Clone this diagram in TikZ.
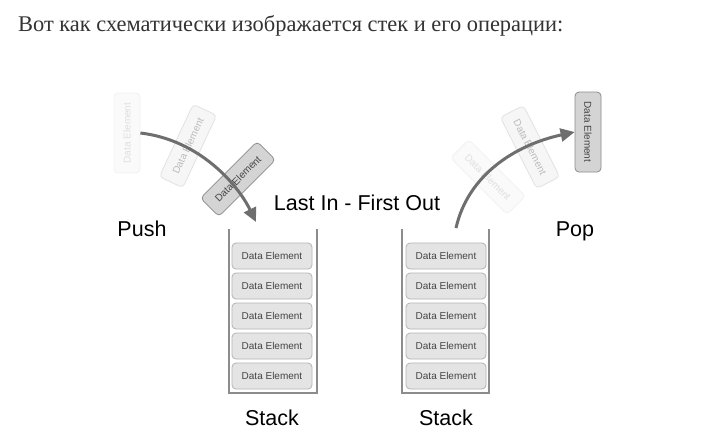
\documentclass[tikz,border=0pt]{standalone}
\usepackage{fontspec}
\setmainfont{Liberation Sans}
\newfontfamily\headfont{Liberation Serif}
\usetikzlibrary{arrows.meta}
\definecolor{elfill}{HTML}{E4E4E4}
\definecolor{eldraw}{HTML}{B4B4B4}
\definecolor{eltext}{HTML}{444444}
\definecolor{arrowc}{HTML}{6E6E6E}
\definecolor{boxc}{HTML}{8C8C8C}
\definecolor{headc}{HTML}{333333}
\definecolor{topfill}{HTML}{D4D4D4}
\definecolor{topdraw}{HTML}{8C8C8C}
\tikzset{
  elem/.style={draw=eldraw, fill=elfill, rounded corners=4pt, line width=0.8pt,
    minimum width=80pt, minimum height=26pt, inner sep=0pt, text=eltext,
    font=\fontsize{10}{12}\selectfont},
  topelem/.style={elem, fill=topfill, draw=topdraw},
  biglabel/.style={font=\fontsize{21.5}{25}\selectfont, text=black, inner sep=0pt, anchor=base},
  stackline/.style={draw=boxc, line width=1.2pt},
  moveit/.style={draw=arrowc, line width=3pt, -{Triangle[length=14pt,width=13pt]}}
}
\begin{document}
\begin{tikzpicture}[x=1pt,y=-1pt]
\useasboundingbox[fill=white] (0,0) rectangle (720,440);
\node[anchor=base west, inner sep=0pt, text=headc, font=\headfont\fontsize{22.4}{26}\selectfont] (head) at (18,31) {Вот как схематически изображается стек и его операции:};

% stacks
\draw[stackline] (229,229) -- (229,393) -- (317,393) -- (317,229);
\draw[stackline] (402,229) -- (402,393) -- (489,393) -- (489,229);
\foreach \i/\y in {1/256,2/286,3/316,4/346,5/376}{
  \node[elem] (l\i) at (272,\y) {Data Element};
  \node[elem] (r\i) at (446,\y) {Data Element};
}
\node[biglabel] (ls) at (272,425) {Stack};
\node[biglabel] (rs) at (446,425) {Stack};
\node[biglabel] (lifo) at (357,210) {Last In - First Out};
\node[biglabel] (push) at (142,236) {Push};
\node[biglabel] (pop) at (575,236) {Pop};

% push elements
\node[elem, rotate=90, opacity=0.15] (f1) at (127,133) {Data Element};
\node[elem, rotate=65, opacity=0.33] (f2) at (188,146) {Data Element};
\node[topelem, rotate=45] (f3) at (238,179) {Data Element};

% pop elements
\node[elem, rotate=-45, opacity=0.15] (p3) at (488,177) {Data Element};
\node[elem, rotate=-63, opacity=0.33] (p2) at (530,147) {Data Element};
\node[topelem, rotate=-90] (p1) at (588,132) {Data Element};

\coordinate (pushend) at (256,222);
\coordinate (popstart) at (456,228);
\draw[moveit] (f1.south) .. controls (200,140) and (238,185) .. (pushend);
\draw[moveit] (popstart) .. controls (468,175) and (515,145) .. (p1.south);
\end{tikzpicture}
\end{document}
